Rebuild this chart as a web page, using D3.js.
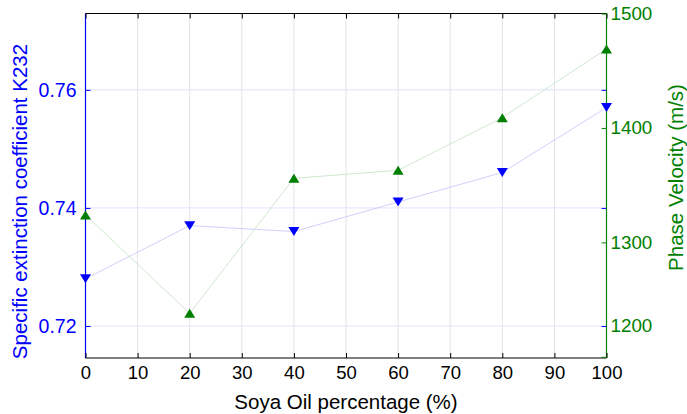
<!DOCTYPE html>
<html>
<head>
<meta charset="utf-8">
<script src="https://cdn.jsdelivr.net/npm/d3@7"></script>
<style>
    body { margin: 0; background: #fff; }
    svg { display: block; font-family: Arial, "Liberation Sans", sans-serif; }
    .domain { display: none; }
</style>
</head>
<body>
<div id="chart"></div>
<script>
var soyaPct = [0, 20, 40, 60, 80, 100];
var k232 = [0.728, 0.737, 0.736, 0.741, 0.746, 0.757];
var phaseVelocity = [1324, 1238, 1356, 1363, 1409, 1469];
var xTicks = [0, 10, 20, 30, 40, 50, 60, 70, 80, 90, 100];
var leftTicks = [0.72, 0.74, 0.76];
var rightTicks = [1200, 1300, 1400, 1500];

var width = 687, height = 414;
var plotLeft = 85.5, plotRight = 606.5, plotTop = 13.5, plotBottom = 358;

var blue = '#0000ff', green = '#008000';
var font = 'Arial, "Liberation Sans", sans-serif';

var svg = d3.select('#chart')
    .append('svg')
    .attr('width', width)
    .attr('height', height);

var x = d3.scaleLinear().domain([0, 100]).range([plotLeft, plotRight]);
var yL = d3.scaleLinear().domain([0.71458, 0.77293]).range([plotBottom, plotTop]);
var yR = d3.scaleLinear().domain([1199, 1500]).range([plotBottom, plotTop]);

/* grid */
svg.append('g').selectAll('line')
    .data(xTicks.slice(1, -1))
    .enter().append('line')
    .attr('x1', function (d) { return x(d); })
    .attr('x2', function (d) { return x(d); })
    .attr('y1', plotTop)
    .attr('y2', plotBottom)
    .attr('stroke', '#e3e3ea')
    .attr('stroke-width', 1);

svg.append('g').selectAll('line')
    .data(leftTicks)
    .enter().append('line')
    .attr('x1', plotLeft)
    .attr('x2', plotRight)
    .attr('y1', function (d) { return yL(d); })
    .attr('y2', function (d) { return yL(d); })
    .attr('stroke', '#e2e2ff')
    .attr('stroke-width', 1);

/* series lines */
var lineL = d3.line()
    .x(function (d, i) { return x(soyaPct[i]); })
    .y(function (d) { return yL(d); });
var lineR = d3.line()
    .x(function (d, i) { return x(soyaPct[i]); })
    .y(function (d) { return yR(d); });

svg.append('path')
    .attr('d', lineL(k232))
    .attr('fill', 'none')
    .attr('stroke', '#c4c4fa')
    .attr('stroke-width', 0.8);

svg.append('path')
    .attr('d', lineR(phaseVelocity))
    .attr('fill', 'none')
    .attr('stroke', '#c2e2c2')
    .attr('stroke-width', 0.8);

/* frame */
svg.append('line').attr('x1', plotLeft).attr('x2', plotRight).attr('y1', plotTop).attr('y2', plotTop)
    .attr('stroke', '#000').attr('stroke-width', 1);
svg.append('line').attr('x1', plotLeft).attr('x2', plotRight).attr('y1', plotBottom).attr('y2', plotBottom)
    .attr('stroke', '#000').attr('stroke-width', 1);
svg.append('line').attr('x1', plotLeft).attr('x2', plotLeft).attr('y1', plotTop).attr('y2', plotBottom)
    .attr('stroke', blue).attr('stroke-width', 1.2);
svg.append('line').attr('x1', plotRight).attr('x2', plotRight).attr('y1', plotTop).attr('y2', plotBottom)
    .attr('stroke', green).attr('stroke-width', 1.2);

/* axes */
var xAxis = svg.append('g')
    .attr('transform', 'translate(0,' + plotBottom + ')')
    .call(d3.axisBottom(x).tickValues(xTicks).tickSize(-5).tickPadding(8));
xAxis.selectAll('text').attr('font-size', 18.5).attr('fill', '#000').attr('font-family', font);
xAxis.selectAll('line').attr('stroke', '#000');

var xTop = svg.append('g')
    .attr('transform', 'translate(0,' + plotTop + ')')
    .call(d3.axisTop(x).tickValues(xTicks).tickSize(-5).tickFormat(''));
xTop.selectAll('line').attr('stroke', '#000');

var lAxis = svg.append('g')
    .attr('transform', 'translate(' + plotLeft + ',0)')
    .call(d3.axisLeft(yL).tickValues(leftTicks).tickSize(-5).tickPadding(9).tickFormat(d3.format('.2f')));
lAxis.selectAll('text').attr('font-size', 19.5).attr('fill', blue).attr('font-family', font);
lAxis.selectAll('line').attr('stroke', blue);

var lRight = svg.append('g')
    .attr('transform', 'translate(' + plotRight + ',0)')
    .call(d3.axisRight(yL).tickValues(leftTicks).tickSize(-5).tickFormat(''));
lRight.selectAll('line').attr('stroke', blue);

var rAxis = svg.append('g')
    .attr('transform', 'translate(' + plotRight + ',0)')
    .call(d3.axisRight(yR).tickValues(rightTicks).tickSize(-5).tickPadding(4)
        .tickFormat(function (d) { return d === 1200 ? '' : d; }));
rAxis.selectAll('text').attr('font-size', 18.8).attr('fill', green).attr('font-family', font);
rAxis.selectAll('line').attr('stroke', green);

/* the 1200 label sits level with the lower blue tick in the original */
svg.append('text')
    .attr('x', plotRight + 4)
    .attr('y', yL(0.72))
    .attr('dy', '0.32em')
    .attr('font-size', 18.8)
    .attr('fill', green)
    .text('1200');

/* markers */
var tri = 'M-5.5,-4.5L5.5,-4.5L0,4.5Z';
svg.append('g').selectAll('path')
    .data(k232)
    .enter().append('path')
    .attr('d', tri)
    .attr('transform', function (d, i) { return 'translate(' + x(soyaPct[i]) + ',' + yL(d) + ')'; })
    .attr('fill', blue);

svg.append('g').selectAll('path')
    .data(phaseVelocity)
    .enter().append('path')
    .attr('d', tri)
    .attr('transform', function (d, i) { return 'translate(' + x(soyaPct[i]) + ',' + yR(d) + ') rotate(180)'; })
    .attr('fill', green);

/* titles */
svg.append('text')
    .attr('x', 346)
    .attr('y', 408.5)
    .attr('text-anchor', 'middle')
    .attr('font-size', 20.5)
    .attr('fill', '#000')
    .text('Soya Oil percentage (%)');

svg.append('text')
    .attr('transform', 'translate(27,201.5) rotate(-90)')
    .attr('text-anchor', 'middle')
    .attr('font-size', 20.5)
    .attr('fill', blue)
    .text('Specific extinction coefficient K232');

svg.append('text')
    .attr('transform', 'translate(683,177.5) rotate(-90)')
    .attr('text-anchor', 'middle')
    .attr('font-size', 20.5)
    .attr('fill', green)
    .text('Phase Velocity (m/s)');
</script>
</body>
</html>
